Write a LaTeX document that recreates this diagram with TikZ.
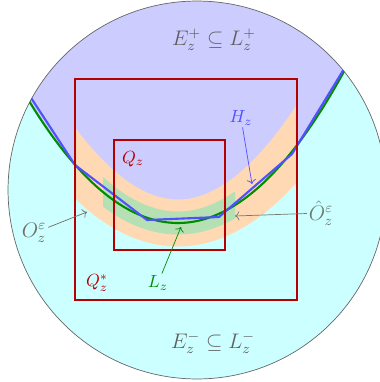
\documentclass[tikz,border=0pt]{standalone}
\usepackage{tikz}
\usetikzlibrary{arrows.meta,positioning,calc}
\definecolor{boxred}{HTML}{B40000}
\definecolor{curvegreen}{HTML}{008C00}
\definecolor{polyblue}{HTML}{5050FF}
\definecolor{upperfill}{HTML}{CCCCFF}
\definecolor{lowerfill}{HTML}{CCFFFF}
\definecolor{bandorange}{HTML}{FFD9B4}
\definecolor{bandgreen}{HTML}{B4E0B4}
\definecolor{labelgray}{HTML}{606060}
\definecolor{labelbrown}{HTML}{766C62}
\definecolor{labelsage}{HTML}{6E7C6E}

\begin{document}
\begin{tikzpicture}[
  x=0.02cm, y=-0.02cm,
  box/.style={draw=boxred, line width=1.3pt},
  lbl/.style={inner sep=1pt},
  biglbl/.style={inner sep=1pt, font=\fontsize{11.5}{13}\selectfont},
  ptr/.style={->, thin},
  curve/.style={domain=0:390, samples=90, smooth},
]
\useasboundingbox (0,0) rectangle (379,382);

% disc: lower and upper sides
\fill[lowerfill] (197,190) circle[radius=3.78cm];
\begin{scope}
  \clip (197,190) circle[radius=3.78cm];
  \fill[upperfill] plot[curve] (\x, {223-(0.07416*(\x-178))^2}) -- (390,-20) -- (0,-20) -- cycle;
\end{scope}
\draw[black!60, line width=0.4pt] (197,190) circle[radius=3.78cm];

% neighbourhoods of the curve
\begin{scope}
  \clip (75,79) rectangle (297,300);
  \draw[bandorange, line width=0.94cm] plot[curve] (\x, {223-(0.07416*(\x-178))^2});
\end{scope}
\begin{scope}
  \clip (103,140) rectangle (235,260);
  \draw[bandgreen, line width=0.46cm] plot[curve] (\x, {223-(0.07416*(\x-178))^2});
\end{scope}

% curve L_z and polygon H_z
\begin{scope}
  \clip (197,190) circle[radius=3.78cm];
  \draw[curvegreen, line width=1.2pt] plot[curve] (\x, {223-(0.07416*(\x-178))^2});
  \draw[polyblue, line width=1.2pt, line join=round]
    (20,81) -- (75,165) -- (147,220) -- (219,217) -- (292,154) -- (355,51);
\end{scope}

% squares
\draw[box] (75,79) rectangle (297,300);
\draw[box] (114,140) rectangle (225,250);

% labels
\node[biglbl, text=labelgray] (eplus) at (214,40) {$E_z^+\subseteq L_z^+$};
\node[biglbl, text=labelgray] (eminus) at (213,343) {$E_z^-\subseteq L_z^-$};
\node[lbl, text=polyblue] (hz) at (241,118) {$H_z$};
\node[lbl, text=boxred] (qz) at (133,159) {$Q_z$};
\node[lbl, text=boxred] (qzstar) at (97,283) {$Q_z^*$};
\node[lbl, text=curvegreen] (lz) at (158,283) {$L_z$};
\node[biglbl, text=labelbrown] (oeps) at (34,233) {$O_z^\varepsilon$};
\node[biglbl, text=labelsage] (ohat) at (321,213) {$\hat O_z^\varepsilon$};

% pointers
\coordinate (hztip) at (252,184);
\coordinate (lztip) at (181,227);
\coordinate (oepstip) at (87,212);
\coordinate (ohattip) at (235,216);
\draw[ptr, polyblue] (hz) -- (hztip);
\draw[ptr, curvegreen] (lz) -- (lztip);
\draw[ptr, labelbrown] (oeps) -- (oepstip);
\draw[ptr, labelsage] (ohat) -- (ohattip);

\end{tikzpicture}
\end{document}
